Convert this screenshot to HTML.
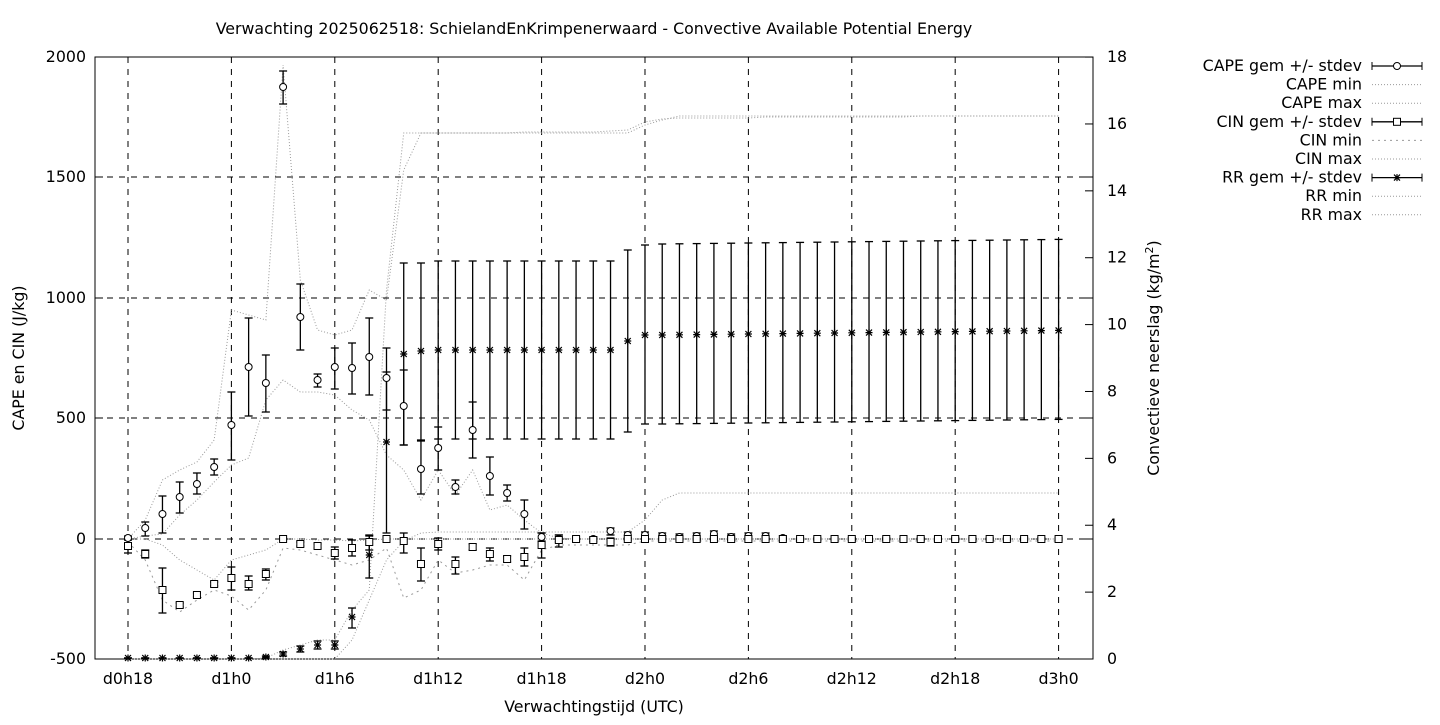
<!DOCTYPE html>
<html><head><meta charset="utf-8"><style>
body{margin:0;background:#fff;width:1440px;height:720px;overflow:hidden}
svg{font-family:"DejaVu Sans","Liberation Sans",sans-serif;font-size:15.8px}
</style></head><body>
<svg id="s" width="1440" height="720" xmlns="http://www.w3.org/2000/svg"></svg>
<script>
var s=document.getElementById('s'),h='';
var L=95,R=1093,T=57,B=659;
function X(i){return 128+i*17.233;}
var yl=[[57,'2000'],[177,'1500'],[298,'1000'],[418,'500'],[539,'0'],[659,'-500']];
yl.forEach(function(a){if(a[0]>57&&a[0]<659)h+='<line x1="'+L+'" y1="'+a[0]+'" x2="'+R+'" y2="'+a[0]+'" stroke="#000" stroke-dasharray="6,6"/>';
h+='<text x="86" y="'+(a[0]+5)+'" text-anchor="end">'+a[1]+'</text><line x1="95" y1="'+a[0]+'" x2="103" y2="'+a[0]+'" stroke="#000"/><line x1="1085" y1="'+a[0]+'" x2="1093" y2="'+a[0]+'" stroke="#000"/>';});
for(var v=0;v<=18;v+=2){var y=659-v*33.44;h+='<text x="1107" y="'+(y+5)+'">'+v+'</text><line x1="1085" y1="'+y+'" x2="1093" y2="'+y+'" stroke="#000"/>';}
var xl=['d0h18','d1h0','d1h6','d1h12','d1h18','d2h0','d2h6','d2h12','d2h18','d3h0'];
xl.forEach(function(t,k){var x=X(k*6);h+='<line x1="'+x+'" y1="57" x2="'+x+'" y2="659" stroke="#000" stroke-dasharray="6,6"/><text x="'+x+'" y="684" text-anchor="middle">'+t+'</text>';});
h+='<rect x="95" y="57" width="998" height="602" fill="none" stroke="#000"/>';
h+='<text x="594" y="34" text-anchor="middle">Verwachting 2025062518: SchielandEnKrimpenerwaard - Convective Available Potential Energy</text>';
h+='<text x="594" y="712" text-anchor="middle">Verwachtingstijd (UTC)</text>';
h+='<text transform="translate(24,358) rotate(-90)" text-anchor="middle">CAPE en CIN (J/kg)</text>';
h+='<text transform="translate(1159,358) rotate(-90)" text-anchor="middle">Convectieve neerslag (kg/m<tspan dy="-6" font-size="11">2</tspan><tspan dy="6">)</tspan></text>';
function dotted(pts,dash){var p=pts.map(function(y,i){return X(i)+','+y;}).join(' ');h+='<polyline points="'+p+'" fill="none" stroke="#999" stroke-width="1" stroke-dasharray="'+(dash||'1,2')+'"/>';}
function ext(a,n,v){while(a.length<n)a.push(v===undefined?a[a.length-1]:v);return a;}
dotted(ext([539,520,480,470,462,440,310,315,320,65,280,330,335,330,290,300,170,133,133,133,133,133,133,132,132,132,132,132,131,130,122,119,118,118,118,118,118,117,117,117,117,117,117,117,117,117,116,116,116,116,116,116,116,116,116],55));
dotted(ext([539,536,534,515,500,482,465,458,400,380,392,392,395,410,420,455,470,500,470,495,470,510,505,520,533,538],55,539));
dotted(ext([542,560,600,612,600,590,596,610,590,548,550,555,560,565,560,548,598,590,560,573,570,565,565,580,550,545,545,545,545,545],55,541),'2,4');
dotted(ext([539,539,545,560,570,580,560,555,550,539,539,540,540,541,540,539],55,539));
dotted(ext([659,659,659,659,659,659,659,659,659,659,659,659,659,640,600,560,541,533,532,532,532,532,532,532,532,532,532,532,532,532,520,500],55,493));
dotted(ext([659,659,659,659,659,659,659,659,658,650,645,640,640,610,590,290,133,133,133,133,133,133,133,133,133,133,133,133,133,133,125,120],55,116));
function eb(x,y,lo,hi){h+='<line x1="'+x+'" y1="'+lo+'" x2="'+x+'" y2="'+hi+'" stroke="#000" stroke-width="1.3"/><line x1="'+(x-4)+'" y1="'+lo+'" x2="'+(x+4)+'" y2="'+lo+'" stroke="#000" stroke-width="1.3"/><line x1="'+(x-4)+'" y1="'+hi+'" x2="'+(x+4)+'" y2="'+hi+'" stroke="#000" stroke-width="1.3"/>';}
function circ(x,y){h+='<circle cx="'+x+'" cy="'+y+'" r="3.5" fill="#fff" stroke="#000"/>';}
function sq(x,y){h+='<rect x="'+(x-3.5)+'" y="'+(y-3.5)+'" width="7" height="7" fill="#fff" stroke="#000"/>';}
function star(x,y){h+='<path d="M'+(x-3.5)+' '+y+'h7M'+x+' '+(y-3.5)+'v7M'+(x-3)+' '+(y-3)+'l6 6M'+(x+3)+' '+(y-3)+'l-6 6" stroke="#000" stroke-width="1.2"/>';}
var cape=[[538,536,540],[528,522,536],[514,496,533],[497,482,513],[484,473,494],[467,459,475],[425,392,460],[367,318,416],[383,355,412],[87,71,104],[317,284,350],[380,374,387],[367,348,389],[368,343,394],[357,318,395],[378,348,410],[406,370,445],[469,440,494],[448,427,470],[487,480,494],[430,402,458],[476,457,495],[493,485,501],[514,500,529],[537,533,541],[539,535,542],[539,537,541],[539,537,541],[531,528,535],[535,532,538],[535,532,538],[536,533,539],[537,534,540],[536,533,539],[534,531,537],[537,534,540],[536,533,539],[536,533,539],[538,536,540]];
while(cape.length<55)cape.push([539,538,540]);
var cin=[[546,540,553],[554,550,558],[590,568,613],[605,603,607],[595,593,597],[584,582,586],[578,567,590],[584,576,590],[574,569,580],[539,538,540],[544,542,546],[546,544,548],[553,547,559],[548,540,556],[542,536,550],[539,537,541],[541,533,553],[564,548,581],[544,538,550],[564,557,574],[547,544,550],[554,548,561],[559,556,562],[557,548,566],[545,533,558],[540,535,547],[539,537,541],[540,538,542],[542,538,546]];
while(cin.length<55)cin.push([539,538,540]);
var rr=[];for(var i=0;i<8;i++)rr.push([658,658,658]);
rr=rr.concat([[657,656,658],[654,652,656],[649,646,652],[645,641,649],[645,641,649],[617,608,628],[555,535,578],[442,372,533],[354,263,445],[351,263,441]]);
for(i=18;i<=28;i++)rr.push([350,261,439]);
rr.push([341,250,432]);rr.push([335,245,424]);
for(i=31;i<55;i++){var y=335-(i-31)*0.2;rr.push([y,y-91,y+89]);}
for(i=0;i<55;i++){var x=X(i);
 var c=cape[i];eb(x,c[0],c[1],c[2]);
 c=cin[i];eb(x,c[0],c[1],c[2]);
 c=rr[i];eb(x,c[0],c[1],c[2]);}
for(i=0;i<55;i++){var x=X(i);circ(x,cape[i][0]);sq(x,cin[i][0]);star(x,rr[i][0]);}
var lg=['CAPE gem +/- stdev','CAPE min','CAPE max','CIN gem +/- stdev','CIN min','CIN max','RR gem +/- stdev','RR min','RR max'];
lg.forEach(function(t,k){var y=66+k*18.6;h+='<text x="1362" y="'+(y+5)+'" text-anchor="end">'+t+'</text>';
 if(k%3==0){h+='<line x1="1372" y1="'+y+'" x2="1422" y2="'+y+'" stroke="#000" stroke-width="1.3"/><line x1="1372" y1="'+(y-4)+'" x2="1372" y2="'+(y+4)+'" stroke="#000"/><line x1="1422" y1="'+(y-4)+'" x2="1422" y2="'+(y+4)+'" stroke="#000"/>';
  if(k==0)circ(1397,y);if(k==3)sq(1397,y);if(k==6)star(1397,y);}
 else h+='<line x1="1372" y1="'+y+'" x2="1422" y2="'+y+'" stroke="#999" stroke-dasharray="'+(k==4?'2,4':'1,2')+'"/>';});
s.innerHTML=h;
</script>
</body></html>
